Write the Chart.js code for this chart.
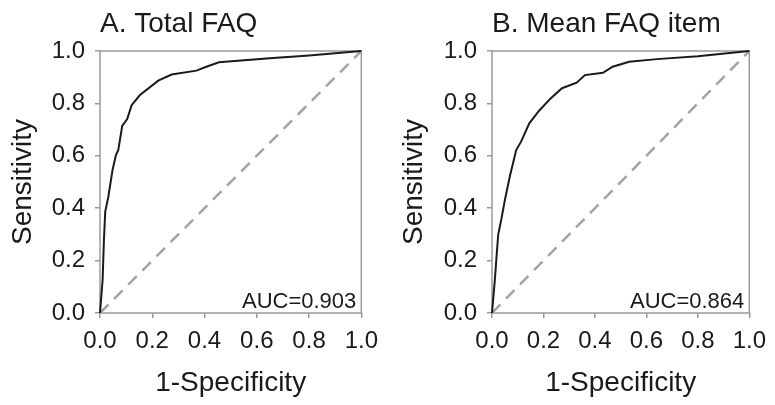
<!DOCTYPE html>
<html>
<head>
<meta charset="utf-8">
<script src="https://cdn.jsdelivr.net/npm/chart.js@4/dist/chart.umd.min.js"></script>
<style>
  html, body { margin: 0; padding: 0; background: #fff; }
  #wrap { position: relative; width: 775px; height: 405px; }
  .box { position: absolute; top: 0; height: 405px; }
</style>
</head>
<body>
<div id="wrap">
  <div class="box" style="left:0;width:387px"><canvas id="rocA"></canvas></div>
  <div class="box" style="left:387px;width:388px"><canvas id="rocB"></canvas></div>
</div>
<script>
// ROC points
const fprA = [0, 0.010, 0.015, 0.020, 0.032, 0.048, 0.061, 0.070, 0.085, 0.104, 0.121, 0.153, 0.223, 0.274, 0.369, 0.407, 0.455, 0.649, 0.80, 1.0]
const tprA = [0, 0.126, 0.278, 0.387, 0.444, 0.546, 0.603, 0.622, 0.714, 0.740, 0.793, 0.832, 0.887, 0.910, 0.925, 0.940, 0.957, 0.972, 0.983, 1.0]

const fprB = [0, 0.011, 0.024, 0.037, 0.050, 0.069, 0.094, 0.113, 0.145, 0.183, 0.228, 0.272, 0.329, 0.361, 0.431, 0.469, 0.533, 0.641, 0.80, 1.0]
const tprB = [0, 0.126, 0.298, 0.361, 0.431, 0.520, 0.622, 0.654, 0.724, 0.772, 0.819, 0.858, 0.879, 0.908, 0.917, 0.940, 0.959, 0.969, 0.980, 1.0]

const diagX = [0, 1]
const diagY = [0, 1]

const tickValues = [0, 0.2, 0.4, 0.6, 0.8, 1.0]

const FONT = "'Liberation Sans', Arial, sans-serif"
const TEXT = '#1a1a1a'
const FRAME = '#9a9a9a'

function toPoints(xs, ys) {
  return xs.map((x, i) => ({ x: x, y: ys[i] }))
}

// box around the plot area + AUC label
const framePlugin = {
  id: 'rocFrame',
  beforeDatasetsDraw(chart) {
    const a = chart.chartArea
    const ctx = chart.ctx
    ctx.save()
    ctx.strokeStyle = FRAME
    ctx.lineWidth = 1.5
    ctx.strokeRect(a.left, a.top, a.right - a.left, a.bottom - a.top)
    ctx.restore()
  },
  afterDatasetsDraw(chart, args, opts) {
    const a = chart.chartArea
    const ctx = chart.ctx
    ctx.save()
    ctx.fillStyle = TEXT
    ctx.font = '22px ' + FONT
    ctx.textAlign = 'right'
    ctx.textBaseline = 'alphabetic'
    ctx.fillText(opts.label, a.right - 5, a.bottom - 5)
    ctx.restore()
  }
}

function makeRoc(id, title, fpr, tpr, auc, yWidth, rightPad, yTitlePad) {
  const axisCommon = {
    type: 'linear',
    min: 0,
    max: 1,
    afterBuildTicks: (s) => { s.ticks = tickValues.map(v => ({ value: v })) },
    ticks: {
      color: TEXT,
      font: { family: FONT, size: 24 },
      callback: (v) => Number(v).toFixed(1)
    },
    grid: { drawOnChartArea: false, drawTicks: true, tickLength: 5, color: FRAME, lineWidth: 1.5 },
    border: { display: false }
  }

  return new Chart(document.getElementById(id), {
    type: 'scatter',
    data: {
      datasets: [{
        data: toPoints(fpr, tpr),
        showLine: true,
        borderColor: '#1a1a1a',
        borderWidth: 2,
        pointRadius: 0,
        tension: 0,
        clip: false,
        order: 1
      }, {
        data: toPoints(diagX, diagY),
        showLine: true,
        borderColor: '#a3a3a3',
        borderWidth: 2.5,
        borderDash: [12, 8],
        pointRadius: 0,
        order: 2
      }]
    },
    options: {
      responsive: true,
      maintainAspectRatio: false,
      animation: false,
      events: [],
      layout: { padding: { left: 0, right: rightPad, top: 0, bottom: 0 } },
      plugins: {
        legend: { display: false },
        tooltip: { enabled: false },
        title: {
          display: true,
          text: title,
          align: 'start',
          fullSize: false,
          color: TEXT,
          font: { family: FONT, size: 28, weight: 'normal' },
          padding: { top: 7, bottom: 10.4 }
        },
        rocFrame: { label: 'AUC=' + auc }
      },
      scales: {
        x: {
          ...axisCommon,
          position: 'bottom',
          ticks: { ...axisCommon.ticks, padding: 9, maxRotation: 0 },
          title: {
            display: true,
            text: '1-Specificity',
            color: TEXT,
            font: { family: FONT, size: 28 },
            padding: { top: 0, bottom: 5 }
          },
          afterFit: (s) => { s.height = 92 }
        },
        y: {
          ...axisCommon,
          position: 'left',
          ticks: { ...axisCommon.ticks, padding: 10 },
          title: {
            display: true,
            text: 'Sensitivity',
            color: TEXT,
            font: { family: FONT, size: 28 },
            padding: { top: yTitlePad, bottom: 0 }
          },
          afterFit: (s) => { s.width = yWidth }
        }
      }
    },
    plugins: [framePlugin]
  })
}

makeRoc('rocA', 'A. Total FAQ', fprA, tprA, '0.903', 100, 25, 6)
makeRoc('rocB', 'B. Mean FAQ item', fprB, tprB, '0.864', 105, 21, 10)
</script>
</body>
</html>
